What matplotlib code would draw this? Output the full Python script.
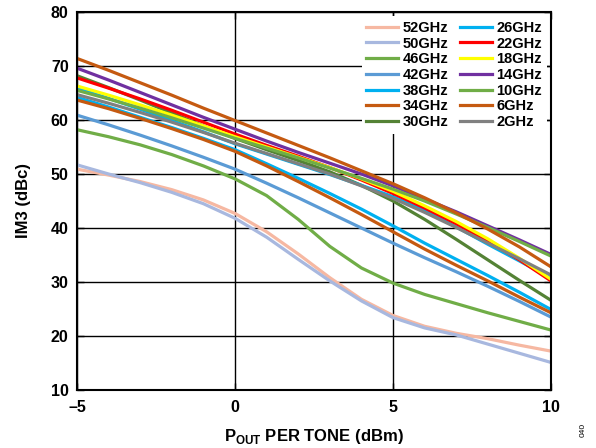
import matplotlib
matplotlib.use("Agg")
import matplotlib.pyplot as plt

plt.rcParams['font.family'] = ['Liberation Sans', 'DejaVu Sans']
plt.rcParams['font.weight'] = 'bold'
plt.rcParams['mathtext.fontset'] = 'custom'
plt.rcParams['mathtext.rm'] = 'Liberation Sans:bold'
plt.rcParams['mathtext.bf'] = 'Liberation Sans:bold'

# output power per tone (dBm)
pout = [-5, -4, -3, -2, -1, 0, 1, 2, 3, 4, 5, 6, 7, 8, 9, 10]

labels = ['52GHz', '50GHz', '46GHz', '42GHz', '38GHz', '34GHz', '30GHz',
          '26GHz', '22GHz', '18GHz', '14GHz', '10GHz', '6GHz', '2GHz']
colors = ['#F6B8A2', '#A8B8DF', '#70AD47', '#5B9BD5', '#00B0F0', '#C55A11', '#548235',
          '#00B0F0', '#FF0000', '#FFFF00', '#7030A0', '#70AD47', '#C55A11', '#808080']

im3_52 = [50.9, 49.8, 48.6, 47.1, 45.2, 42.7, 39.3, 35.2, 30.8, 26.8, 23.8, 21.8, 20.5, 19.5, 18.3, 17.2]
im3_50 = [51.7, 50.0, 48.4, 46.6, 44.5, 41.8, 38.3, 34.2, 30.2, 26.5, 23.4, 21.5, 20.2, 18.5, 16.8, 15.1]
im3_46 = [58.2, 56.9, 55.4, 53.6, 51.5, 49.1, 46.0, 41.6, 36.6, 32.6, 29.8, 27.7, 26.0, 24.3, 22.7, 21.1]
im3_42 = [60.9, 59.1, 57.2, 55.2, 53.1, 50.9, 48.3, 45.6, 42.8, 40.0, 37.2, 34.5, 31.9, 29.2, 26.4, 23.5]
im3_38 = [64.2, 62.4, 60.5, 58.6, 56.6, 54.5, 51.9, 49.2, 46.4, 43.5, 40.4, 37.2, 34.2, 31.2, 28.1, 24.9]
im3_34 = [63.7, 62.1, 60.3, 58.4, 56.4, 54.2, 51.5, 48.6, 45.6, 42.5, 39.3, 36.1, 33.1, 30.2, 27.2, 24.3]
im3_30 = [68.2, 66.0, 63.7, 61.3, 58.9, 56.6, 54.5, 52.5, 50.4, 47.9, 45.0, 41.6, 37.9, 34.1, 30.3, 26.6]
im3_26 = [65.9, 64.0, 62.0, 59.9, 57.8, 55.6, 53.7, 51.8, 49.9, 47.9, 45.8, 43.2, 40.2, 37.0, 33.9, 30.7]
im3_22 = [67.8, 65.9, 63.9, 61.8, 59.6, 57.4, 55.3, 53.3, 51.2, 48.9, 46.4, 43.7, 40.8, 37.6, 34.1, 30.2]
im3_18 = [66.3, 64.6, 62.8, 60.9, 58.9, 56.9, 55.0, 53.1, 51.2, 49.1, 46.8, 44.1, 41.2, 38.0, 34.4, 30.5]
im3_14 = [69.6, 67.4, 65.1, 62.8, 60.5, 58.3, 56.1, 54.0, 52.0, 50.0, 47.8, 45.4, 43.0, 40.4, 37.8, 35.1]
im3_10 = [65.5, 63.9, 62.2, 60.4, 58.5, 56.6, 54.8, 53.0, 51.1, 49.2, 47.2, 45.0, 42.6, 40.1, 37.5, 34.8]
im3_6 = [71.4, 69.2, 66.9, 64.6, 62.2, 59.9, 57.6, 55.3, 53.0, 50.6, 48.2, 45.6, 42.8, 39.8, 36.5, 32.8]
im3_2 = [64.7, 63.1, 61.4, 59.6, 57.7, 55.7, 53.8, 51.9, 50.0, 47.8, 45.5, 42.9, 40.1, 37.2, 34.3, 31.3]

series = [im3_52, im3_50, im3_46, im3_42, im3_38, im3_34, im3_30,
          im3_26, im3_22, im3_18, im3_14, im3_10, im3_6, im3_2]

xticks = [-5, 0, 5, 10]
xticklabels = ['\u20135', '0', '5', '10']
yticks = [10, 20, 30, 40, 50, 60, 70, 80]

fig = plt.figure(figsize=(5.96, 4.48), dpi=100)
ax = fig.add_axes([77/596, 58/448, 474/596, 378/448])

for ys, lab, c in zip(series, labels, colors):
    ax.plot(pout, ys, color=c, lw=2.3, label=lab, solid_joinstyle='round')

ax.set_xlim(-5, 10)
ax.set_ylim(10, 80)
ax.set_xticks(xticks)
ax.set_xticklabels(xticklabels)
ax.set_yticks(yticks)
ax.grid(True, color='black', lw=1.0)
ax.set_axisbelow(True)
ax.tick_params(direction='in', length=5, width=1, labelsize=11.5, top=True, right=True)
ax.tick_params(axis='y', pad=6)
ax.tick_params(axis='x', pad=7)
for lbl in ax.get_xticklabels() + ax.get_yticklabels():
    lbl.set_fontweight('bold')
for s in ax.spines.values():
    s.set_linewidth(1.5)

ax.set_xlabel(r'P$_{\rm OUT}$ PER TONE (dBm)', fontsize=12, fontweight='bold', labelpad=9)
ax.set_ylabel('IM3 (dBc)', fontsize=12, fontweight='bold', labelpad=14)

leg = ax.legend(ncol=2, loc='upper right', frameon=True, fancybox=False,
                edgecolor='none', facecolor='white', framealpha=1,
                prop={'weight': 'bold', 'size': 10.5}, handlelength=2.2,
                handletextpad=0.3, columnspacing=0.8, labelspacing=0.12,
                borderaxespad=0.3, borderpad=0.3)

fig.text(0.978, 0.04, '040', rotation=90, fontsize=6, fontweight='normal',
         ha='center', va='center')

fig.savefig('out.png', dpi=100)
